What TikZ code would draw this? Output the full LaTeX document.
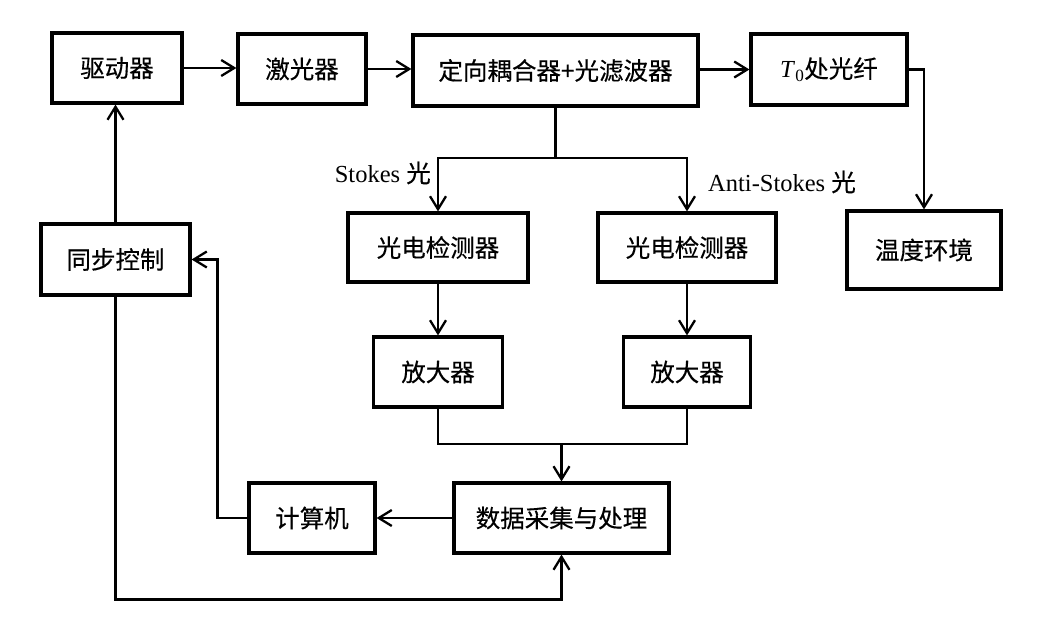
\documentclass[tikz,border=0pt]{standalone}
\usepackage{fontspec}
\setmainfont{Liberation Serif}
\newfontfamily\cjk[FakeBold=0.4]{Noto Sans CJK SC}
\usetikzlibrary{arrows.meta}
\tikzset{
  blk/.style={draw, line width=3.2pt, inner sep=0pt, font=\fontsize{24.5}{28}\selectfont\cjk},
  conn/.style={line width=2.3pt, -{Straight Barb[length=13pt,width=16pt,line width=2.3pt]}},
  plain/.style={line width=2.3pt},
  lbl/.style={inner sep=0pt, font=\fontsize{24.5}{28}\selectfont}
}
\begin{document}
\begin{tikzpicture}[x=1pt,y=-1pt]
\useasboundingbox (0,0) rectangle (1044,616);
\node[blk, minimum width=130pt, minimum height=70pt] (drv) at (117,68) {驱动器};
\node[blk, minimum width=128pt, minimum height=70pt] (las) at (302,69) {激光器};
\node[blk, minimum width=285pt, minimum height=71pt] (cpl) at (555.5,70.5) {定向耦合器+光滤波器};
\node[blk, minimum width=156pt, minimum height=71pt] (fib) at (829,69.5) {\rmfamily\textit{T}\textsubscript{0}\cjk 处光纤};
\node[blk, minimum width=154pt, minimum height=78pt] (env) at (924,250) {温度环境};
\node[blk, minimum width=180pt, minimum height=69pt] (pdl) at (438,247.5) {光电检测器};
\node[blk, minimum width=178pt, minimum height=69pt] (pdr) at (687,247.5) {光电检测器};
\node[blk, minimum width=129pt, minimum height=70pt] (ampl) at (438,372) {放大器};
\node[blk, minimum width=127pt, minimum height=70pt] (ampr) at (687,372) {放大器};
\node[blk, minimum width=149pt, minimum height=71pt] (sync) at (115.5,259.5) {同步控制};
\node[blk, minimum width=126pt, minimum height=70pt] (cmp) at (312,518) {计算机};
\node[blk, minimum width=215pt, minimum height=70pt] (daq) at (561.5,518) {数据采集与处理};

\coordinate (split) at (555.5,158);
\coordinate (merge) at (561.5,444);

\node[lbl, anchor=east] (stk) at (431,173) {Stokes {\cjk 光}};
\node[lbl, anchor=west] (astk) at (708,182) {Anti-Stokes {\cjk 光}};

\draw[conn] (drv.east) -- (drv.east -| las.west);
\draw[conn] (las.east) -- (las.east -| cpl.west);
\draw[conn] (cpl.east |- fib.west) -- (fib.west);
\draw[conn] (fib.east) -| (env.north);
\draw[plain] (cpl.south) -- (split);
\draw[conn] (split) -| (pdl.north);
\draw[conn] (split) -| (pdr.north);
\draw[conn] (pdl.south) -- (ampl.north);
\draw[conn] (pdr.south) -- (ampr.north);
\draw[plain] (ampl.south) |- (merge) -| (ampr.south);
\draw[conn] (merge) -- (daq.north);
\draw[conn] (daq.west) -- (cmp.east);
\draw[conn] (cmp.west) -- ++(-30,0) |- (sync.east);
\draw[conn] (sync.north) -- (sync.north |- drv.south);
\draw[conn] (sync.south) -- ++(0,303) -| (daq.south);
\end{tikzpicture}
\end{document}
